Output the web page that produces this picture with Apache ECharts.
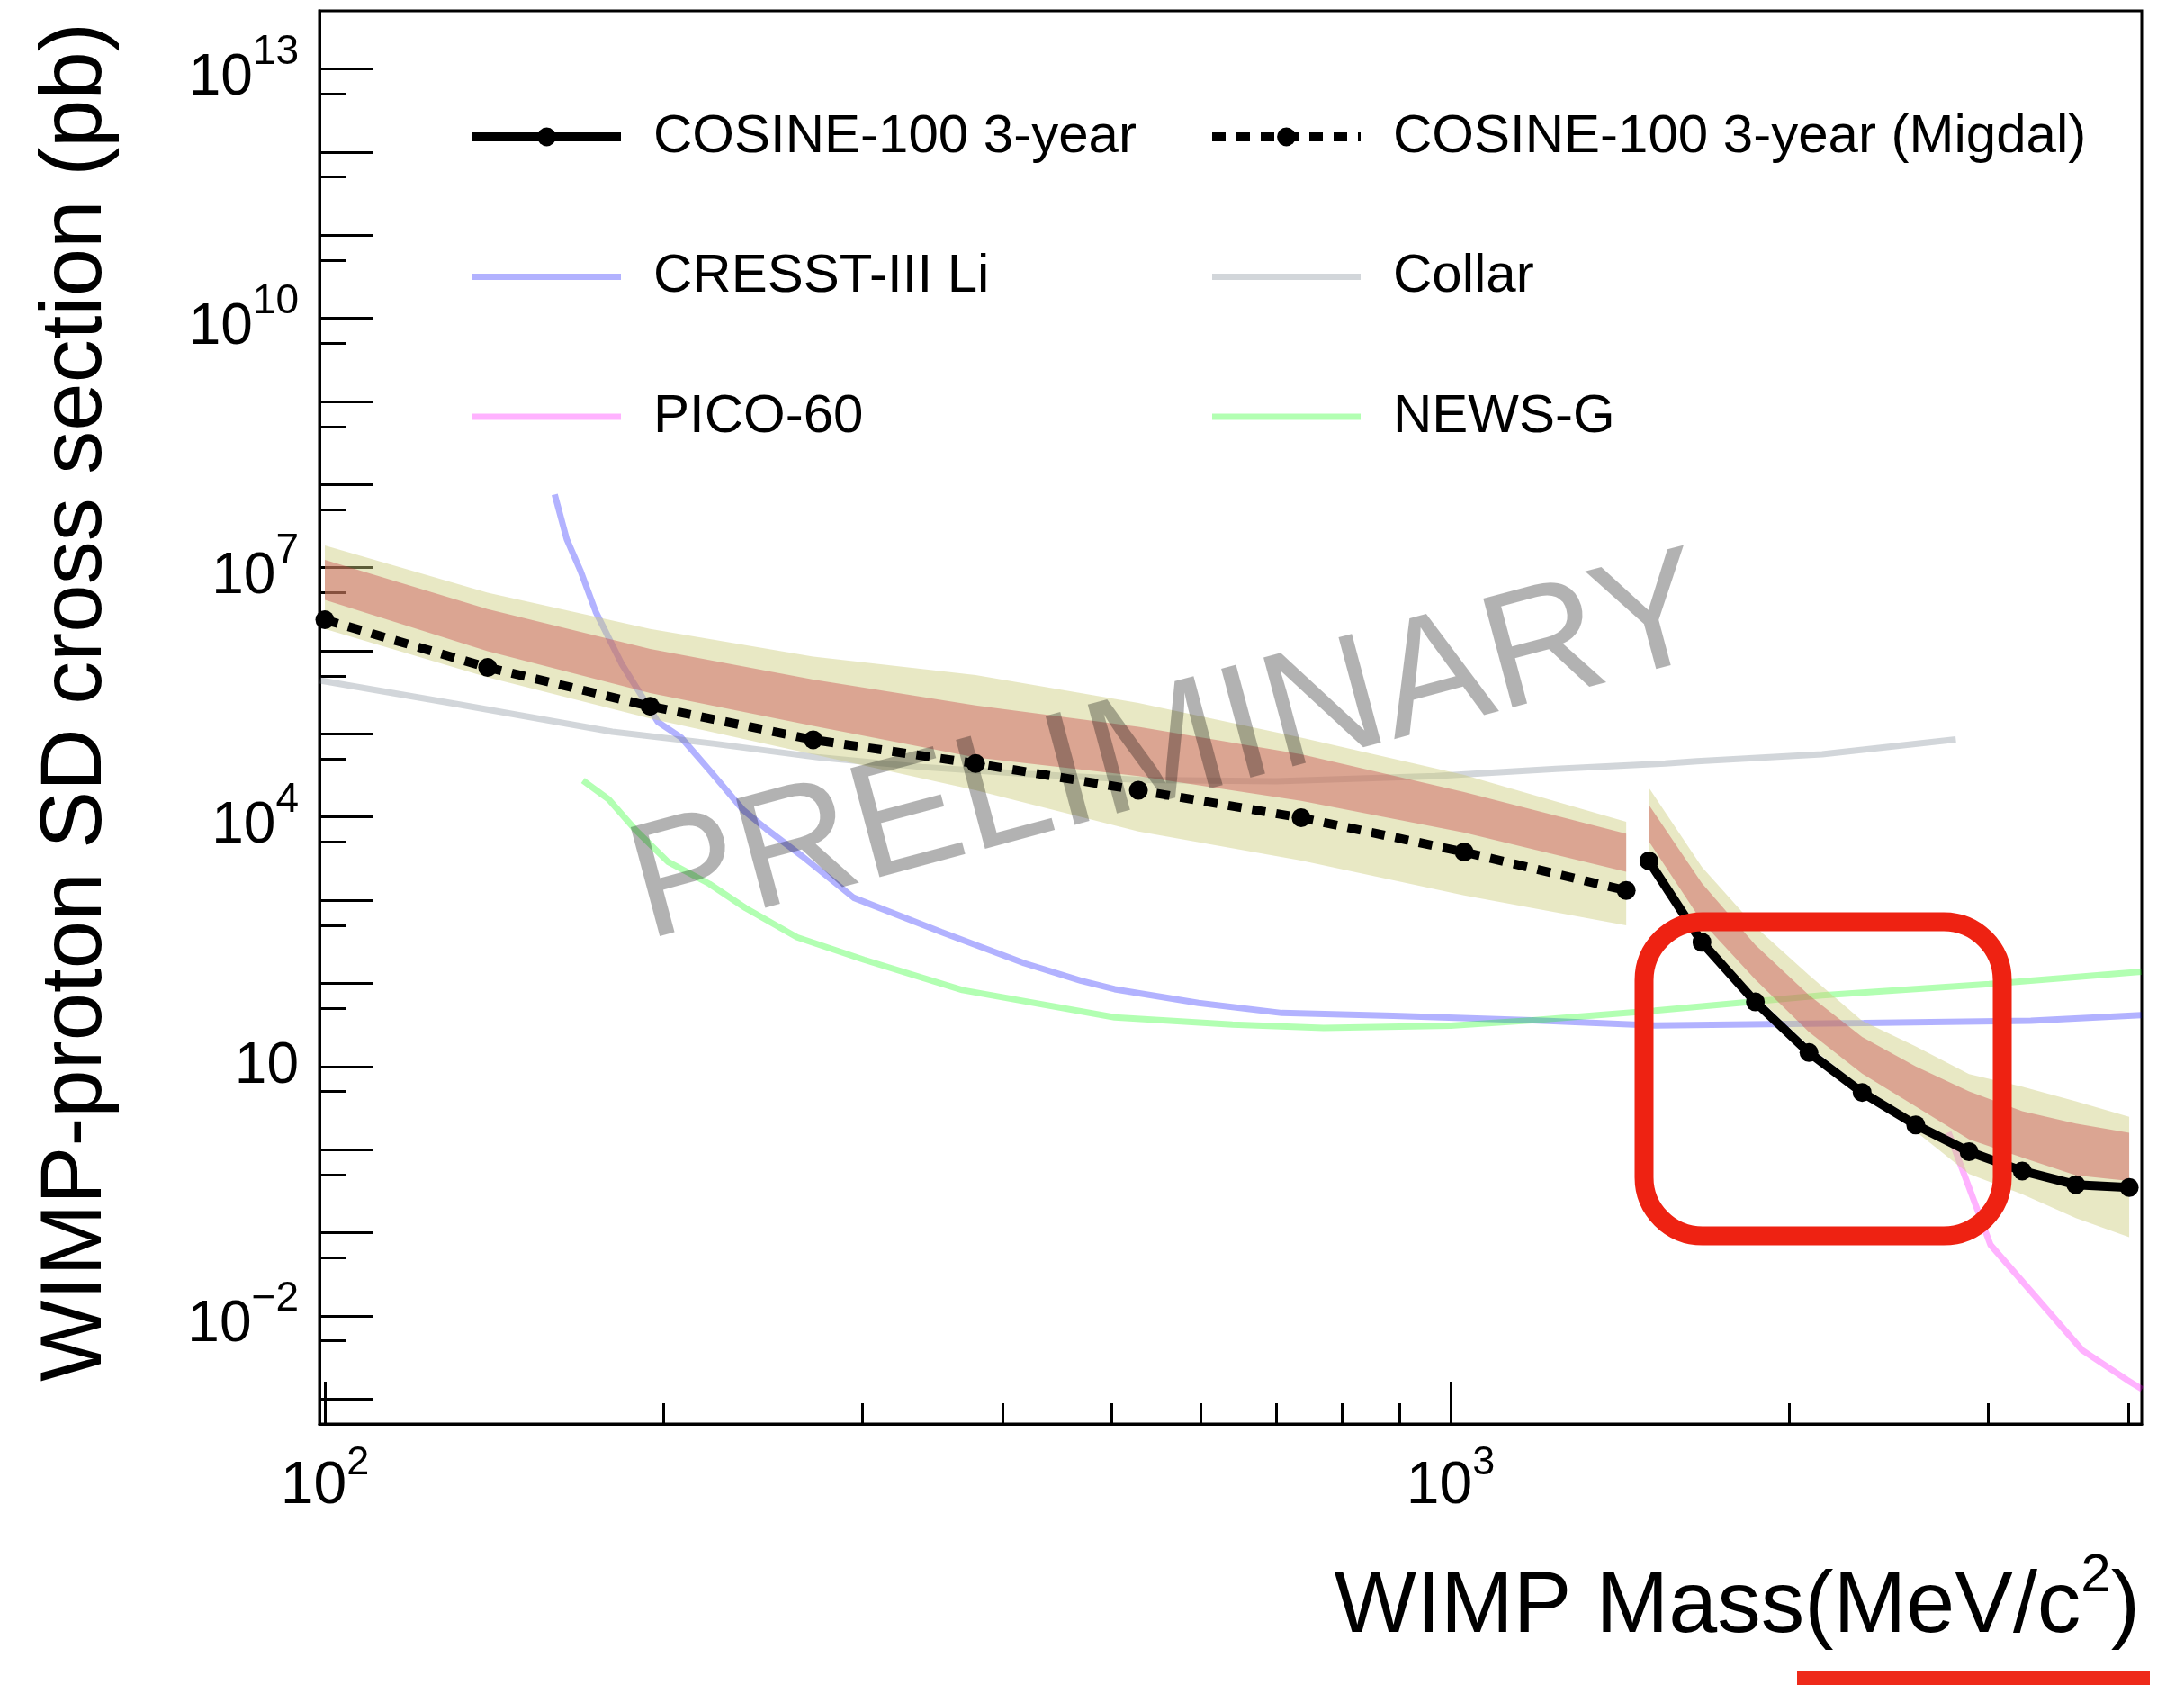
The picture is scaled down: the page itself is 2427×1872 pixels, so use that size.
<!DOCTYPE html>
<html>
<head>
<meta charset="utf-8">
<script src="https://cdn.jsdelivr.net/npm/echarts@6/dist/echarts.min.js"></script>
<style>
  html, body { margin: 0; padding: 0; background: #ffffff; }
  #chart { width: 2427px; height: 1872px; }
</style>
</head>
<body>
<div id="chart"></div>
<script>
const FONT = '"Liberation Sans", Arial, Helvetica, sans-serif';

// ---- COSINE-100 3-year (standard nuclear recoil) : limit and expected bands (pb)
const stdMass  = [1500, 1672, 1865, 2081, 2320, 2589, 2887, 3219, 3592, 4006];
const stdLimit = [2970, 312, 59.7, 14.7, 4.87, 1.98, 0.944, 0.553, 0.378, 0.35];
const stdUp2   = [2.25e4, 2.5e3, 480, 126, 35.5, 17.4, 8.1, 5.7, 3.8, 2.47];
const stdUp1   = [1.4e4, 1.6e3, 290, 72, 22.7, 10, 5.0, 2.9, 2.05, 1.59];
const stdDn1   = [5.1e3, 550, 111, 26, 8.2, 3.3, 1.33, 0.8, 0.49, 0.42];
const stdDn2   = [3.3e3, 340, 72, 17.6, 5.6, 1.65, 0.51, 0.29, 0.15, 0.088];

// ---- COSINE-100 3-year (Migdal effect) : limit and expected bands (pb)
const migMass  = [100, 139.5, 194.5, 271.5, 378.5, 528, 736.5, 1028, 1432];
const migLimit = [2.36e6, 6.3e5, 2.15e5, 8.5e4, 4.4e4, 2.1e4, 9.8e3, 3.8e3, 1.31e3];
const migUp2   = [1.85e7, 5.0e6, 1.83e6, 8.5e5, 5.1e5, 2.35e5, 9.0e4, 3.2e4, 8.75e3];
const migUp1   = [1.24e7, 3.16e6, 1.05e6, 4.5e5, 2.2e5, 1.22e5, 5.7e4, 2.0e4, 6.3e3];
const migDn1   = [4.1e6, 9.9e5, 3.1e5, 1.25e5, 5.2e4, 3.1e4, 1.57e4, 6.5e3, 2.2e3];
const migDn2   = [1.83e6, 4.8e5, 1.53e5, 5.7e4, 2.1e4, 6.7e3, 3.0e3, 1.14e3, 500];

// ---- Other experiments: [mass (MeV/c^2), cross section (pb)]
const cresst = [[160, 7.6e7], [164, 2.2e7], [168.6, 9.3e6], [174, 2.95e6], [183.4, 7.05e5],
  [197.6, 1.39e5], [207.2, 9.06e4], [219.6, 3.66e4], [235.2, 1.22e4], [246.6, 7.2e3],
  [265.6, 3.37e3], [295, 1.07e3], [353, 413], [418, 175], [469, 108], [503, 85], [597, 58],
  [708, 44], [889, 40.7], [1182, 36], [1519, 31.2], [2328, 33.3], [3276, 35.5], [4107, 41.4]];
const collar = [[99, 4.4e5], [132, 2.24e5], [180, 1.06e5], [222, 7.6e4], [275, 5.2e4],
  [339, 4.0e4], [419, 3.3e4], [530, 2.8e4], [700, 2.7e4], [969, 3.1e4], [1240, 3.8e4],
  [1551, 4.4e4], [1655, 4.7e4], [2138, 5.7e4], [2810, 8.6e4]];
const pico = [[2768, 1.61], [3017, 0.0711], [3638, 3.87e-3], [3989, 1.69e-3], [4113, 1.31e-3]];
const newsg = [[169.5, 2.75e4], [178.7, 1.63e4], [188.4, 7.2e3], [201.7, 2.9e3], [219.6, 1.57e3],
  [236.4, 805], [262.7, 358], [301.3, 192], [368.3, 83], [503, 39], [640, 32], [771, 29],
  [1000, 31], [1182, 36], [1519, 47], [2138, 71.6], [3008, 98], [4107, 138]];

// ---- Axis ranges and tick positions
const xRange = [98.9, 4110];
const yRange = [5e-4, 5e13];
const xMajorTicks = [100, 1000];
const xMinorTicks = [200, 300, 400, 500, 600, 700, 800, 900, 2000, 3000, 4000];
const yMajorTicks = [1e-3, 1e-2, 1e-1, 1, 10, 1e2, 1e3, 1e4, 1e5, 1e6, 1e7, 1e8, 1e9, 1e10, 1e11, 1e12, 1e13];
const yMinorTicks = [5e-3, 5e-2, 5e-1, 5, 50, 5e2, 5e3, 5e4, 5e5, 5e6, 5e7, 5e8, 5e9, 5e10, 5e11, 5e12];
const yLabelValues = [1e-2, 10, 1e4, 1e7, 1e10, 1e13];

const pair = (xs, ys) => xs.map((x, i) => [x, ys[i]]);

// "10" with the exponent as a raised superscript (plain "10" for 10^1)
function powLabel(v) {
  const e = Math.round(Math.log10(v));
  if (e === 1) return '{n|10}';
  return '{b|10}{s|' + (e < 0 ? '\u2212' + (-e) : String(e)) + '}';
}

// both tokens get the same box height; padding pushes the base down and the exponent up
function powRich(base, sup, raise) {
  const box = base + raise;
  return {
    n: { fontSize: base, height: base, fontFamily: FONT, color: '#000' },
    b: { fontSize: base, height: base, fontFamily: FONT, color: '#000', padding: [raise, 0, 0, 0] },
    s: { fontSize: sup, height: sup, fontFamily: FONT, color: '#000', padding: [0, 0, box - sup, 0] }
  };
}

// expected-sensitivity band as a closed polygon between two boundary curves
function bandSeries(mass, up, dn, fill) {
  return {
    type: 'custom', xAxisIndex: 0, yAxisIndex: 0, z: 3, silent: true, clip: true,
    data: [[mass[0], up[0]]],
    renderItem: function (params, api) {
      const pts = [];
      for (let i = 0; i < mass.length; i++) pts.push(api.coord([mass[i], up[i]]));
      for (let i = mass.length - 1; i >= 0; i--) pts.push(api.coord([mass[i], dn[i]]));
      return { type: 'polygon', shape: { points: pts }, style: { fill: fill } };
    }
  };
}

function curve(name, data, color) {
  return {
    name: name, type: 'line', data: data, z: 2, silent: true,
    symbol: 'none', smooth: false,
    lineStyle: { color: color, width: 7 },
    itemStyle: { color: color }
  };
}

const BAND2 = 'rgba(205,203,125,0.45)';
const BAND1 = 'rgba(200,64,72,0.40)';
const black = '#000000';

const chart = echarts.init(document.getElementById('chart'), null, { renderer: 'canvas' });

const legendCommon = {
  orient: 'vertical', top: 122, itemWidth: 165, itemHeight: 26, itemGap: 95.5,
  padding: 0, selectedMode: false, align: 'left',
  textStyle: { fontSize: 60, lineHeight: 60, fontFamily: FONT, color: black, padding: [0, 0, 0, 31] }
};

chart.setOption({
  animation: false,
  backgroundColor: '#ffffff',
  grid: {
    left: 355, top: 12, width: 2025, height: 1570,
    show: true, borderColor: black, borderWidth: 3, containLabel: false
  },
  xAxis: [
    {
      type: 'log', logBase: 10, min: xRange[0], max: xRange[1], position: 'bottom',
      axisLine: { show: true, onZero: false, lineStyle: { color: black, width: 3 } },
      axisTick: { show: true, inside: true, length: 47, customValues: xMajorTicks, lineStyle: { color: black, width: 3 } },
      minorTick: { show: false }, splitLine: { show: false },
      axisLabel: {
        show: true, customValues: xMajorTicks, margin: 21, color: black, fontFamily: FONT,
        formatter: powLabel, rich: powRich(66, 45, 16)
      }
    },
    {
      type: 'log', logBase: 10, min: xRange[0], max: xRange[1], position: 'bottom', offset: 0,
      axisLine: { show: false },
      axisTick: { show: true, inside: true, length: 23, customValues: xMinorTicks, lineStyle: { color: black, width: 3 } },
      axisLabel: { show: false }, splitLine: { show: false }, minorTick: { show: false }
    }
  ],
  yAxis: [
    {
      type: 'log', logBase: 10, min: yRange[0], max: yRange[1], position: 'left',
      axisLine: { show: true, onZero: false, lineStyle: { color: black, width: 3 } },
      axisTick: { show: true, inside: true, length: 60, customValues: yMajorTicks, lineStyle: { color: black, width: 3 } },
      minorTick: { show: false }, splitLine: { show: false },
      axisLabel: {
        show: true, customValues: yLabelValues, margin: 23, color: black, fontFamily: FONT,
        padding: [1, 0, 0, 0],
        formatter: powLabel, rich: powRich(64, 46, 20)
      }
    },
    {
      type: 'log', logBase: 10, min: yRange[0], max: yRange[1], position: 'left', offset: 0,
      axisLine: { show: false },
      axisTick: { show: true, inside: true, length: 30, customValues: yMinorTicks, lineStyle: { color: black, width: 3 } },
      axisLabel: { show: false }, splitLine: { show: false }, minorTick: { show: false }
    }
  ],
  legend: [
    Object.assign({}, legendCommon, {
      left: 520,
      data: [
        { name: 'COSINE-100 3-year', lineStyle: { width: 10 } },
        { name: 'CRESST-III Li', lineStyle: { width: 7 }, itemStyle: { opacity: 0 } },
        { name: 'PICO-60', lineStyle: { width: 7 }, itemStyle: { opacity: 0 } }
      ]
    }),
    Object.assign({}, legendCommon, {
      left: 1342,
      data: [
        { name: 'COSINE-100 3-year (Migdal)', lineStyle: { width: 10 } },
        { name: 'Collar', lineStyle: { width: 7 }, itemStyle: { opacity: 0 } },
        { name: 'NEWS-G', lineStyle: { width: 7 }, itemStyle: { opacity: 0 } }
      ]
    })
  ],
  series: [
    curve('CRESST-III Li', cresst, 'rgba(0,0,255,0.3)'),
    curve('Collar', collar, 'rgba(105,118,132,0.3)'),
    curve('PICO-60', pico, 'rgba(255,0,255,0.3)'),
    curve('NEWS-G', newsg, 'rgba(0,255,0,0.3)'),
    bandSeries(migMass, migUp2, migDn2, BAND2),
    bandSeries(migMass, migUp1, migDn1, BAND1),
    bandSeries(stdMass, stdUp2, stdDn2, BAND2),
    bandSeries(stdMass, stdUp1, stdDn1, BAND1),
    {
      name: 'COSINE-100 3-year (Migdal)', type: 'line', z: 5, silent: true,
      data: pair(migMass, migLimit),
      symbol: 'circle', symbolSize: 21, showSymbol: true,
      lineStyle: { color: black, width: 10, type: [15, 12] },
      itemStyle: { color: black }
    },
    {
      name: 'COSINE-100 3-year', type: 'line', z: 5, silent: true,
      data: pair(stdMass, stdLimit),
      symbol: 'circle', symbolSize: 21, showSymbol: true,
      lineStyle: { color: black, width: 10 },
      itemStyle: { color: black }
    }
  ],
  graphic: {
    elements: [
      {
        type: 'text', x: 86, y: 780, rotation: Math.PI / 2, silent: true,
        style: {
          text: 'WIMP-proton SD cross section (pb)', fill: black,
          font: '96px ' + FONT, align: 'center', verticalAlign: 'middle'
        }
      },
      {
        type: 'text', x: 2378, y: 1778, silent: true,
        style: {
          text: '{t|WIMP Mass(MeV/c}{s|2}{t|)}', fill: black, align: 'right', verticalAlign: 'middle',
          rich: {
            t: { fontSize: 97, height: 97, fontFamily: FONT, fill: black, padding: [16, 0, 0, 0], verticalAlign: 'bottom' },
            s: { fontSize: 60, height: 60, fontFamily: FONT, fill: black, verticalAlign: 'top' }
          }
        }
      },
      {
        type: 'text', x: 1300, y: 836, rotation: 15 * Math.PI / 180, z: 100, silent: true,
        style: {
          text: 'PRELIMINARY', fill: 'rgba(0,0,0,0.3)',
          font: '182px ' + FONT, align: 'center', verticalAlign: 'middle'
        }
      },
      {
        type: 'rect', z: 110, silent: true,
        shape: { x: 1827, y: 1024, width: 398, height: 349, r: 65 },
        style: { fill: 'none', stroke: '#ee2212', lineWidth: 21 }
      },
      {
        type: 'rect', z: 110, silent: true,
        shape: { x: 1997, y: 1857, width: 392, height: 15 },
        style: { fill: '#ee2a1a' }
      }
    ]
  }
});
</script>
</body>
</html>
